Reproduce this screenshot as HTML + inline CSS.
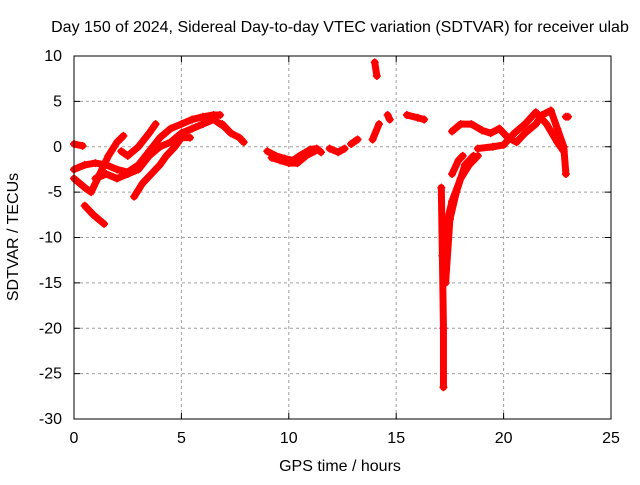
<!DOCTYPE html>
<html><head><meta charset="utf-8"><style>
body{margin:0;background:#fff}
svg text{font-family:"Liberation Sans",sans-serif;font-size:16px;fill:#000}
</style></head><body>
<svg id="c" width="640" height="480">
<rect width="640" height="480" fill="#fff"/>
<text x="340" y="32" text-anchor="middle">Day 150 of 2024, Sidereal Day-to-day VTEC variation (SDTVAR) for receiver ulab</text>
<text x="340" y="471" text-anchor="middle">GPS time / hours</text>
<text transform="translate(18,237) rotate(-90)" text-anchor="middle">SDTVAR / TECUs</text>
<g id="grid"></g><g id="ticks"></g><g id="marks"></g>
<rect x="74" y="56" width="537" height="363" fill="none" stroke="#000" stroke-width="1"/>
</svg>
<script>
const xTicks=[0,5,10,15,20,25];
const yTicks=[10,5,0,-5,-10,-15,-20,-25,-30];
const trackTimes=[
[0,0.4],
[0,0.5,0.8,1.2,1.6,2.0,2.3],
[0.5,0.9,1.4],
[0,0.5,1,1.5,2,2.5,3,3.5,4,4.5,5,5.5,6,6.5,6.8],
[1,1.5,2,2.5,3,3.5,4,4.5,5,5.5,6,6.5,7,7.3],
[2.8,3.2,3.6,4,4.3,4.7,5,5.4],
[2.2,2.5,3,3.5,3.8],
[6.9,7.3,7.7,7.9],
[9,9.4,9.8,10.2,10.5,11,11.3,11.5],
[9.2,9.6,10,10.4,10.8,11.2],
[11.9,12.3,12.6],[12.9,13.2],[13.9,14.2],[14,14.1],[14.6,14.7],[15.5,16.0,16.3],
[17.1,17.15,17.2,17.2],
[17.3,17.5,17.8,18.2,18.6],
[17.2,17.6,18,18.4,18.8],
[17.6,17.9,18.1],
[17.6,18,18.5,19,19.4,19.8,20.2,20.6,21,21.5,21.8,22.2,22.5,22.8,22.9],
[18.8,19.5,20,20.5,21,21.5,22,22.5,22.8],
[22.9,23.0]
];
const trackValues=[
[0.3,0.1],
[-3.5,-4.5,-5,-3,-1,0.5,1.2],
[-6.5,-7.5,-8.5],
[-2.5,-2,-1.8,-2,-2.5,-2.8,-2,-0.5,1,2,2.5,3,3.3,3.5,3.5],
[-3.5,-3,-3.5,-3,-2.5,-1,0,0.5,1.5,2,2.5,3,2.2,1.5],
[-5.5,-4,-3,-2,-1,0,1,1],
[-0.5,-1,0,1.5,2.5],
[2.5,1.5,1,0.5],
[-0.5,-1,-1.3,-1.5,-1,-0.3,-0.2,-0.6],
[-1.2,-1.5,-1.8,-1.8,-1,-0.5],
[-0.2,-0.6,-0.2],[0.3,0.8],[0.8,2.5],[9.3,7.8],[3.5,3],[3.5,3.2,3],
[-4.5,-12,-20,-26.5],
[-15,-8,-5,-2,-1],
[-10,-6,-3.5,-2,-1],
[-3,-1.5,-1],
[1.7,2.5,2.5,1.8,1.5,2,1,0.5,1.5,2.5,3.5,4,2,0,-3,-4.5],
[-0.2,0,0.2,1.5,2.5,3.8,2.5,0.5,-0.5],
[3.3,3.3]
];
const X=t=>74+t*537/25, Y=v=>56+(10-v)*363/40;
const NS="http://www.w3.org/2000/svg";
const mk=(tag,a,p)=>{const e=document.createElementNS(NS,tag);for(const k in a)e.setAttribute(k,a[k]);p.appendChild(e);return e;};
const grid=document.getElementById('grid'),ticks=document.getElementById('ticks'),marks=document.getElementById('marks');
xTicks.forEach(t=>{const x=X(t);
 if(t>0&&t<25){const g=mk('line',{x1:x,x2:x,y1:56,y2:419,stroke:'#a0a0a0','stroke-dasharray':'3,3'},grid);
 
 }
 mk('line',{x1:x,x2:x,y1:419,y2:413,stroke:'#000'},ticks);mk('line',{x1:x,x2:x,y1:56,y2:62,stroke:'#000'},ticks);
 const l=mk('text',{x:x,y:443,'text-anchor':'middle'},ticks);l.textContent=t;
 
 });
yTicks.forEach(v=>{const y=Y(v);
 if(v<10&&v>-30){const g=mk('line',{x1:74,x2:611,y1:y,y2:y,stroke:'#a0a0a0','stroke-dasharray':'3,3'},grid);
 
 }
 mk('line',{x1:74,x2:80,y1:y,y2:y,stroke:'#000'},ticks);mk('line',{x1:611,x2:605,y1:y,y2:y,stroke:'#000'},ticks);
 const l=mk('text',{x:62,y:y+5,'text-anchor':'end'},ticks);l.textContent=v;
 
 });
trackTimes.forEach((ts,i)=>{const vs=trackValues[i];
 const pts=ts.map((t,j)=>X(t)+','+Y(vs[j])).join(' ');
 const pl=mk('polyline',{points:pts,fill:'none',stroke:'#ff0000','stroke-width':7,'stroke-linejoin':'round','stroke-linecap':'round'},marks);
 
 
 ts.forEach((t,j)=>{const x=X(t),y=Y(vs[j]);
  const p=mk('path',{d:`M${x-4},${y}H${x+4}M${x},${y-4}V${y+4}`,stroke:'#ff0000','stroke-width':1.5},marks);
  
  });
});
</script>
</body></html>
